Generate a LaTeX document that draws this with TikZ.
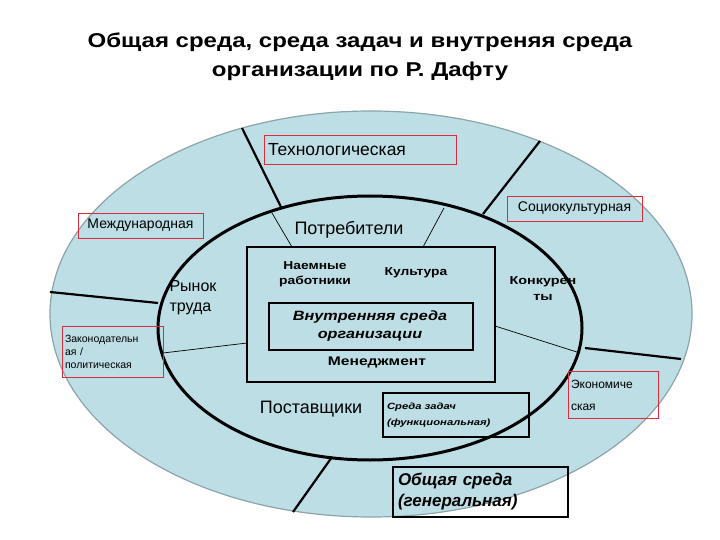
\documentclass[tikz,border=0pt]{standalone}
\usepackage{fontspec}
\setmainfont{Liberation Sans}
\newfontfamily\widefont[FakeStretch=1.2]{Liberation Sans}
\newfontfamily\widerfont[FakeStretch=1.25]{Liberation Sans}
\usetikzlibrary{positioning}
\definecolor{envblue}{RGB}{188,222,228}
\definecolor{rimgray}{RGB}{140,165,170}
\definecolor{labred}{RGB}{215,45,60}
\tikzset{
  redlab/.style={draw=labred,line width=0.8pt,inner sep=2pt},
  divline/.style={line width=2.2pt},
  thinline/.style={line width=0.7pt},
  orgbox/.style={draw,line width=2pt}
}
\begin{document}
\begin{tikzpicture}[x=1pt,y=-1pt]
  \useasboundingbox (0,0) rectangle (720,540);
  % title
  \node[font=\widefont\bfseries\fontsize{20}{29}\selectfont,align=center] (title) at (360,57)
    {Общая среда, среда задач и внутреняя среда\\организации по Р. Дафту};
  % ellipses
  \filldraw[fill=envblue,draw=rimgray,line width=1.2pt] (371,314) ellipse [x radius=321,y radius=203];
  \draw[line width=3pt] (370,328) ellipse [x radius=212,y radius=132];
  % organization
  \draw[orgbox] (247,247) rectangle (495,382);
  \draw[orgbox] (269,303) rectangle (473,350);
  \node[font=\widefont\bfseries\fontsize{11.5}{15}\selectfont,align=center] (hired) at (315,274) {Наемные\\работники};
  \node[font=\widefont\bfseries\fontsize{11.5}{15}\selectfont] (culture) at (416,273) {Культура};
  \node[font=\widefont\bfseries\itshape\fontsize{13.5}{18}\selectfont,align=center] (inner) at (370,326) {Внутренняя среда\\организации};
  \node[font=\widerfont\bfseries\fontsize{12.5}{15}\selectfont] (mgmt) at (377,362) {Менеджмент};
  % task environment
  \node[font=\fontsize{18}{19}\selectfont] (consumers) at (349,230) {Потребители};
  \node[font=\fontsize{16}{20}\selectfont,align=left,anchor=west] (labour) at (166,298) {Рынок\\труда};
  \node[font=\fontsize{18}{19}\selectfont] (suppliers) at (311,409) {Поставщики};
  \node[font=\widerfont\bfseries\fontsize{11.5}{16}\selectfont,align=center] (rivals) at (543,289) {Конкурен\\ты};
  \node[draw,line width=1.2pt,minimum width=146pt,minimum height=44pt,font=\widerfont\bfseries\itshape\fontsize{9}{16}\selectfont,align=left,text width=138pt] (task) at (456,415) {Среда задач\\(функциональная)};
  \node[draw,line width=1.5pt,minimum width=175pt,minimum height=50pt,font=\bfseries\itshape\fontsize{17}{21}\selectfont,align=left,text width=165pt] (general) at (480.5,492) {Общая среда\\(генеральная)};
  % general environment labels
  \node[redlab,minimum width=192pt,minimum height=29pt,font=\fontsize{17.5}{18}\selectfont,text width=184pt] (tech) at (360,149.5) {Технологическая};
  \node[redlab,minimum width=125pt,minimum height=25pt,font=\fontsize{14}{15}\selectfont] (intl) at (140.5,225.5) {Международная};
  \node[redlab,minimum width=135pt,minimum height=25pt,font=\fontsize{14}{15}\selectfont] (socio) at (574.5,208.5) {Социокультурная};
  \node[redlab,minimum width=101pt,minimum height=51pt,font=\fontsize{10.5}{13}\selectfont,align=left,text width=95pt] (legal) at (112.5,351.5) {Законодательн\\ая /\\политическая};
  \node[redlab,minimum width=90pt,minimum height=47pt,font=\fontsize{12}{22}\selectfont,align=left,text width=84pt] (econ) at (613,395) {Экономиче\\ская};
  % dividing lines
  \coordinate (ot1) at (242,128);  \coordinate (it1) at (281,207);
  \coordinate (ot2) at (540,141);  \coordinate (it2) at (483,214);
  \coordinate (ol) at (50,292);    \coordinate (il) at (158,303);
  \coordinate (or) at (681,359);   \coordinate (ir) at (585,348);
  \coordinate (ob) at (293,512);   \coordinate (ib) at (332,457);
  \draw[divline] (ot1) -- (it1);
  \draw[divline] (ot2) -- (it2);
  \draw[divline] (ol) -- (il);
  \draw[divline] (or) -- (ir);
  \draw[divline] (ob) -- (ib);
  \coordinate (e1) at (272,213);  \coordinate (r1) at (292,247);
  \coordinate (e2) at (444,208);  \coordinate (r2) at (423,247);
  \coordinate (e3) at (163,353);  \coordinate (r3) at (247,343);
  \coordinate (e4) at (580,353);  \coordinate (r4) at (495,326);
  \draw[thinline] (e1) -- (r1);
  \draw[thinline] (e2) -- (r2);
  \draw[thinline] (e3) -- (r3);
  \draw[thinline] (e4) -- (r4);
\end{tikzpicture}
\end{document}
